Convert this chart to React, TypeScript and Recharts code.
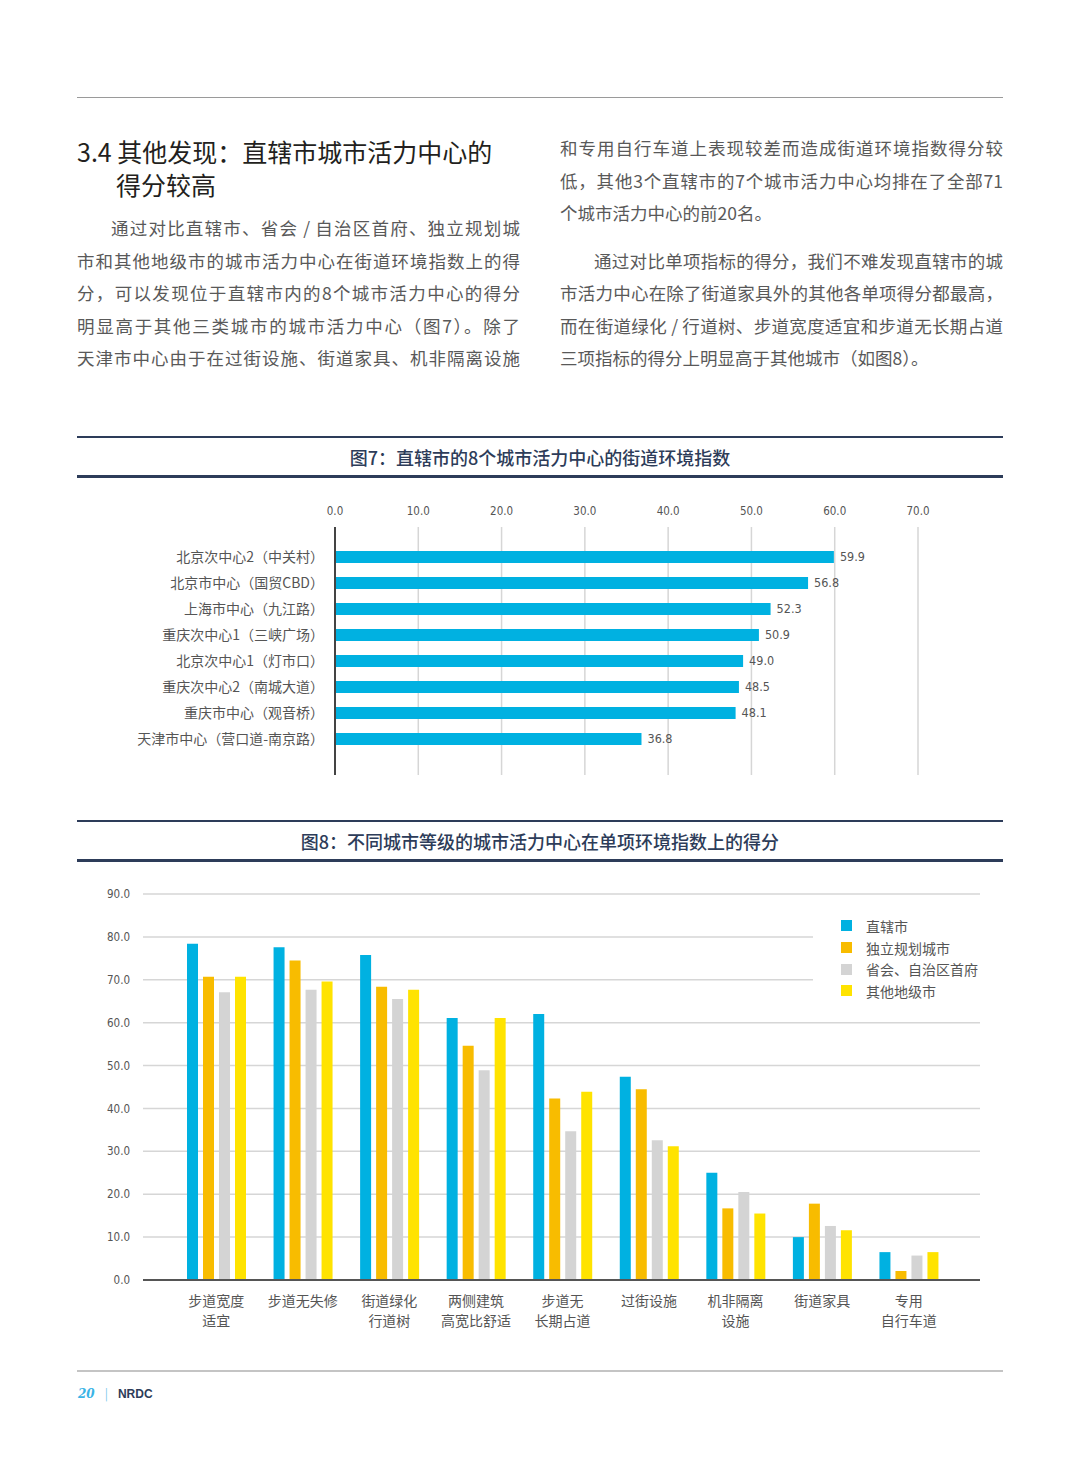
import React from 'react'
import { BarChart, Bar, XAxis, YAxis, CartesianGrid, LabelList, Legend } from 'recharts'

const CJK = '"Noto Sans CJK SC", "Noto Sans", sans-serif'
const NARROW = '"Liberation Sans Narrow", "DejaVu Sans Condensed", Roboto, sans-serif'
const NAVY = '#2d3c59'
const TEXT = '#595959'

// 图7：直辖市的8个城市活力中心
const centerNames = [
  '北京次中心2（中关村）',
  '北京市中心（国贸CBD）',
  '上海市中心（九江路）',
  '重庆次中心1（三峡广场）',
  '北京次中心1（灯市口）',
  '重庆次中心2（南城大道）',
  '重庆市中心（观音桥）',
  '天津市中心（营口道-南京路）',
]
const centerScores = [59.9, 56.8, 52.3, 50.9, 49.0, 48.5, 48.1, 36.8]
const fig7Ticks = [0, 10, 20, 30, 40, 50, 60, 70]

// 图8：不同城市等级的单项得分
const indicatorNames = [
  '步道宽度\n适宜',
  '步道无失修',
  '街道绿化\n行道树',
  '两侧建筑\n高宽比舒适',
  '步道无\n长期占道',
  '过街设施',
  '机非隔离\n设施',
  '街道家具',
  '专用\n自行车道',
]
const seriesNames = ['直辖市', '独立规划城市', '省会、自治区首府', '其他地级市']
const seriesColors = ['#00b1e1', '#f8bc00', '#d4d4d4', '#ffe300']
const directScores = [78.4, 77.6, 75.8, 61.1, 62.0, 47.4, 25.0, 10.0, 6.5]
const independentScores = [70.7, 74.5, 68.4, 54.6, 42.3, 44.5, 16.7, 17.8, 2.1]
const provincialScores = [67.1, 67.7, 65.5, 48.9, 34.7, 32.6, 20.5, 12.6, 5.7]
const otherScores = [70.7, 69.6, 67.7, 61.1, 43.9, 31.2, 15.5, 11.6, 6.5]
const fig8Ticks = [0, 10, 20, 30, 40, 50, 60, 70, 80, 90]

const fig7Data = centerNames.map((name, i) => ({ name, score: centerScores[i] }))
const fig8Data = indicatorNames.map((name, i) => ({
  name,
  s0: directScores[i],
  s1: independentScores[i],
  s2: provincialScores[i],
  s3: otherScores[i],
}))

const leftLines = [
  '通过对比直辖市、省会 / 自治区首府、独立规划城',
  '市和其他地级市的城市活力中心在街道环境指数上的得',
  '分，可以发现位于直辖市内的8个城市活力中心的得分',
  '明显高于其他三类城市的城市活力中心（图7）。除了',
  '天津市中心由于在过街设施、街道家具、机非隔离设施',
]
const rightLines = [
  '和专用自行车道上表现较差而造成街道环境指数得分较',
  '低，其他3个直辖市的7个城市活力中心均排在了全部71',
  '个城市活力中心的前20名。',
  '通过对比单项指标的得分，我们不难发现直辖市的城',
  '市活力中心在除了街道家具外的其他各单项得分都最高，',
  '而在街道绿化 / 行道树、步道宽度适宜和步道无长期占道',
  '三项指标的得分上明显高于其他城市（如图8）。',
]
const leftTops = [228, 261, 293, 326, 358]
const rightTops = [148, 181, 213, 261, 293, 326, 358]

function TextLine({ text, x, cy, indent, last }: any) {
  return (
    <div
      style={{
        position: 'absolute',
        left: x,
        top: cy - 16,
        width: 443,
        height: 32,
        lineHeight: '32px',
        fontSize: 17.5,
        color: TEXT,
        whiteSpace: 'nowrap',
        textIndent: indent ? 34 : 0,
        textAlign: 'justify',
        textAlignLast: last ? 'left' : 'justify',
      }}
    >
      {text}
    </div>
  )
}

function CategoryTick({ x, y, payload }: any) {
  const lines = String(payload.value).split('\n')
  return (
    <text x={x} y={y} textAnchor="middle" fill="#555" fontSize={14} fontFamily={CJK}>
      {lines.map((line, i) => (
        <tspan key={i} x={x} dy={i === 0 ? 26 : 20}>
          {line}
        </tspan>
      ))}
    </text>
  )
}

function SeriesLegend() {
  return (
    <div style={{ paddingTop: 10, paddingLeft: 28 }}>
      {seriesNames.map((name, i) => (
        <div
          key={name}
          style={{ display: 'flex', alignItems: 'center', height: 21.7, fontSize: 14, color: '#555', fontFamily: CJK }}
        >
          <span style={{ width: 11, height: 11, background: seriesColors[i], marginRight: 14, display: 'inline-block' }} />
          <span>{name}</span>
        </div>
      ))}
    </div>
  )
}

function TitleBlock({ top, text }: any) {
  return (
    <>
      <div style={{ position: 'absolute', left: 77, top, width: 926, height: 2, background: NAVY }} />
      <div
        style={{
          position: 'absolute',
          left: 77,
          top: top + 4,
          width: 926,
          height: 34,
          lineHeight: '34px',
          textAlign: 'center',
          fontSize: 18,
          fontWeight: 500,
          color: NAVY,
        }}
      >
        {text}
      </div>
      <div style={{ position: 'absolute', left: 77, top: top + 39, width: 926, height: 2.5, background: NAVY }} />
    </>
  )
}

export default function App() {
  return (
    <div
      style={{
        position: 'absolute',
        left: 0,
        top: 0,
        width: 1080,
        height: 1466,
        background: '#fff',
        fontFamily: CJK,
        overflow: 'hidden',
      }}
    >
      <div style={{ position: 'absolute', left: 77, top: 97, width: 926, height: 1, background: '#9a9a9a' }} />

      <div style={{ position: 'absolute', left: 77, top: 135, fontSize: 25, lineHeight: '33px', color: '#231f20', whiteSpace: 'nowrap' }}>
        3.4 其他发现：直辖市城市活力中心的
      </div>
      <div style={{ position: 'absolute', left: 116, top: 168, fontSize: 25, lineHeight: '33px', color: '#231f20' }}>
        得分较高
      </div>

      {leftLines.map((t, i) => (
        <TextLine key={t} text={t} x={77} cy={leftTops[i]} indent={i === 0} last={false} />
      ))}
      {rightLines.map((t, i) => (
        <TextLine key={t} text={t} x={560} cy={rightTops[i]} indent={i === 3} last={i === 2 || i === 6} />
      ))}

      <TitleBlock top={436} text="图7：直辖市的8个城市活力中心的街道环境指数" />

      <div style={{ position: 'absolute', left: 0, top: 490 }}>
        <BarChart
          width={1080}
          height={300}
          data={fig7Data}
          layout="vertical"
          margin={{ top: 0, right: 162, bottom: 15, left: 0 }}
        >
          <CartesianGrid horizontal={false} stroke="#d6d6d6" strokeWidth={1.5} />
          <XAxis
            type="number"
            orientation="top"
            domain={[0, 70]}
            ticks={fig7Ticks}
            height={37}
            axisLine={false}
            tickLine={false}
            tickSize={0}
            tickMargin={12}
            tickFormatter={(v: number) => v.toFixed(1)}
            tick={{ fill: '#555', fontSize: 11.5, fontFamily: NARROW }}
          />
          <YAxis
            type="category"
            dataKey="name"
            width={335}
            padding={{ top: 17, bottom: 23 }}
            axisLine={{ stroke: '#444', strokeWidth: 2 }}
            tickLine={false}
            tickSize={0}
            tickMargin={11}
            tick={{ fill: '#555', fontSize: 14, fontFamily: CJK }}
            interval={0}
          />
          <Bar dataKey="score" fill="#00b1e1" barSize={12} isAnimationActive={false}>
            <LabelList
              dataKey="score"
              position="right"
              offset={6}
              formatter={(v: any) => Number(v).toFixed(1)}
              style={{ fill: '#555', fontSize: 12.5, fontFamily: NARROW }}
            />
          </Bar>
        </BarChart>
      </div>

      <TitleBlock top={820} text="图8：不同城市等级的城市活力中心在单项环境指数上的得分" />

      <div style={{ position: 'absolute', left: 0, top: 880 }}>
        <BarChart
          width={1080}
          height={460}
          data={fig8Data}
          margin={{ top: 14, right: 100, bottom: 10, left: 0 }}
          barGap={5}
        >
          <CartesianGrid vertical={false} stroke="#d6d6d6" strokeWidth={1.5} />
          <XAxis
            dataKey="name"
            height={50}
            padding={{ left: 30, right: 28 }}
            axisLine={{ stroke: '#555', strokeWidth: 2 }}
            tickLine={false}
            tickSize={0}
            tickMargin={0}
            interval={0}
            tick={<CategoryTick />}
          />
          <YAxis
            domain={[0, 90]}
            ticks={fig8Ticks}
            width={143}
            axisLine={false}
            tickLine={false}
            tickSize={0}
            tickMargin={13}
            tickFormatter={(v: number) => v.toFixed(1)}
            tick={{ fill: '#555', fontSize: 11.5, fontFamily: NARROW }}
          />
          <Legend
            layout="vertical"
            align="center"
            verticalAlign="middle"
            content={<SeriesLegend />}
            wrapperStyle={{ left: 813, top: 25, width: 172, height: 98, background: '#fff' }}
          />
          {['s0', 's1', 's2', 's3'].map((key, i) => (
            <Bar key={key} dataKey={key} name={seriesNames[i]} fill={seriesColors[i]} barSize={11} isAnimationActive={false} />
          ))}
        </BarChart>
      </div>

      <div style={{ position: 'absolute', left: 77, top: 1370, width: 926, height: 1.5, background: '#c4c4c4' }} />
      <div style={{ position: 'absolute', left: 78, top: 1385, fontSize: 12, lineHeight: '16px', whiteSpace: 'nowrap' }}>
        <span style={{ fontFamily: '"DejaVu Serif", serif', fontStyle: 'italic', fontWeight: 'bold', color: '#3ab4e6' }}>20</span>
        <span style={{ color: '#7cc9ea', margin: '0 10px' }}>|</span>
        <span style={{ fontFamily: '"Liberation Sans", Arial, sans-serif', fontWeight: 'bold', color: NAVY }}>NRDC</span>
      </div>
    </div>
  )
}
